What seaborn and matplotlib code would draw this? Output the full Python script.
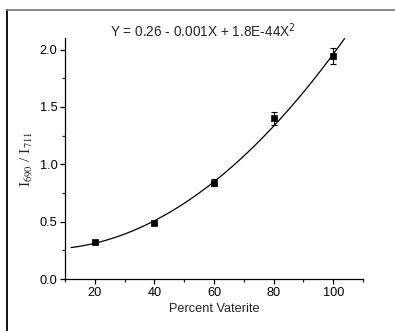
import numpy as np
import pandas as pd
import matplotlib
matplotlib.use("Agg")
import matplotlib.pyplot as plt
import seaborn as sns
from matplotlib.ticker import MultipleLocator
from matplotlib.lines import Line2D

percent = [20, 40, 60, 80, 100]
ratio = [0.32, 0.49, 0.84, 1.40, 1.94]
err = [0.015, 0.015, 0.03, 0.055, 0.07]
fit_coef = [0.26, -0.001, 1.8e-4]
fit_range = [12, 103.8]
title = "Y = 0.26 - 0.001X + 1.8E-44X$^2$"

sns.set_theme(style="ticks")
plt.rcParams['font.family'] = ['Liberation Sans', 'DejaVu Sans']

fig = plt.figure(figsize=(3.95, 3.31), dpi=100)
ax = fig.add_axes([0.1646, 0.157, 0.919 - 0.1646, 0.885 - 0.157])

df = pd.DataFrame({"Percent Vaterite": percent, "ratio": ratio, "err": err})
xs = np.linspace(fit_range[0], fit_range[1], 200)
ys = fit_coef[0] + fit_coef[1] * xs + fit_coef[2] * xs ** 2
sns.lineplot(x=xs, y=ys, ax=ax, color="black", lw=0.9)
ax.errorbar(df["Percent Vaterite"], df["ratio"], yerr=df["err"], fmt="none",
            ecolor="black", elinewidth=0.8, capsize=2.5, capthick=0.8)
sns.scatterplot(data=df, x="Percent Vaterite", y="ratio", ax=ax, marker="s",
                color="black", s=22, edgecolor="black", linewidth=0.5, zorder=5)

ax.set_xlim(10, 110)
ax.set_ylim(0, 2.1)
ax.xaxis.set_major_locator(MultipleLocator(20))
ax.xaxis.set_minor_locator(MultipleLocator(10))
ax.yaxis.set_major_locator(MultipleLocator(0.5))
ax.yaxis.set_minor_locator(MultipleLocator(0.25))
ax.yaxis.set_major_formatter(matplotlib.ticker.FormatStrFormatter('%.1f'))
for s in ["top", "right"]:
    ax.spines[s].set_visible(False)
for s in ["left", "bottom"]:
    ax.spines[s].set_linewidth(0.9)
    ax.spines[s].set_color("black")
ax.tick_params(which="major", direction="out", length=3.5, width=0.9,
               labelsize=9.2, colors="black", pad=2)
ax.tick_params(which="minor", direction="out", length=2.2, width=0.9)

ax.set_xlabel("Percent Vaterite", fontsize=9.2, labelpad=3)
ax.set_ylabel(r"I$_{690}$ / I$_{711}$", fontsize=11, family=["Liberation Serif"],
              labelpad=3)
ax.yaxis.label.set_math_fontfamily('stix')
ax.text(0.463, 0.99, title, transform=ax.transAxes, ha="center", va="bottom",
        fontsize=9.8)

fig.lines.append(Line2D([7 / 395, 7 / 395], [0, 1 - 10 / 331],
                        transform=fig.transFigure, color="black", lw=1.3))
fig.lines.append(Line2D([7 / 395, 1], [1 - 10 / 331, 1 - 10 / 331],
                        transform=fig.transFigure, color="#7f7f7f", lw=1.3))
fig.savefig("out.png", dpi=100)
